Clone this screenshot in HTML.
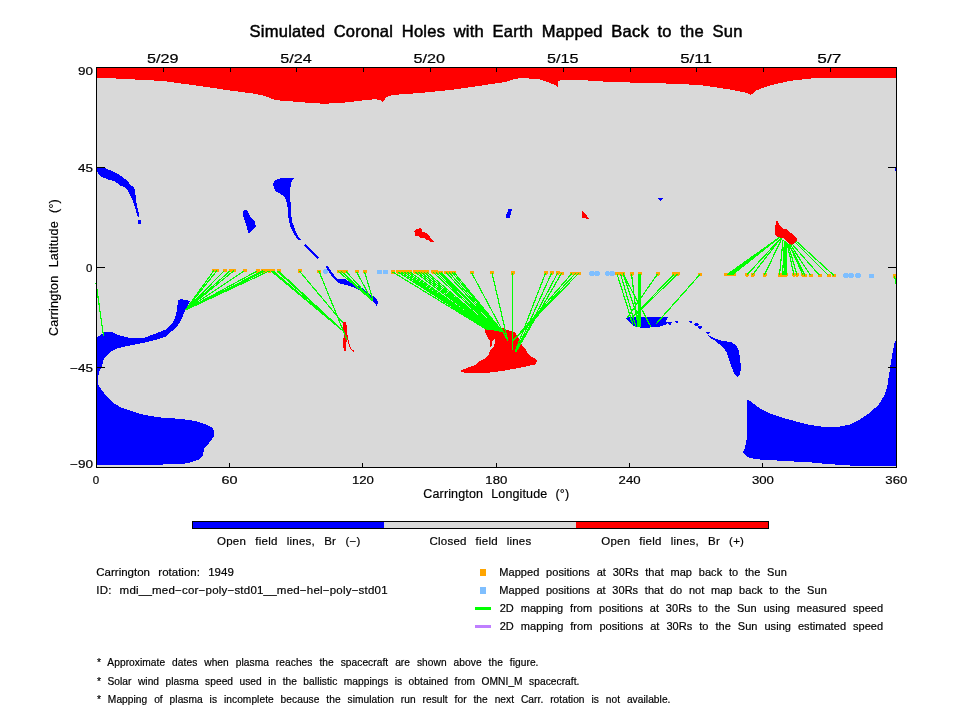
<!DOCTYPE html>
<html><head><meta charset="utf-8"><title>Simulated Coronal Holes</title>
<style>html,body{margin:0;padding:0;background:#fff;}svg{display:block;font-family:"Liberation Sans",sans-serif;fill:#000;}text{white-space:pre;}</style></head><body>
<svg width="960" height="720" viewBox="0 0 960 720">
<rect x="0" y="0" width="960" height="720" fill="#fff"/>
<g shape-rendering="crispEdges">
<rect x="96" y="67" width="800" height="400" fill="#d9d9d9"/>
<path d="M96 67 L896 67 L896 78 L815 78 L790 80.8 L770 85.5 L760 89 L757 90 L751 94.7 L745 92.5 L730 89.5 L700 85 L660 83.25 L610 82 L580 80 L565 79.5 L558 81 L557.5 83 L558 87.5 L555 85 L550 83 L545 81 L540 79.5 L524 78 L515 78.75 L505 82 L480 85.75 L450 90 L420 93 L392 95 L386 97.5 L385 99 L383 102 L380 100 L375 99.25 L362 100.5 L345 102.5 L325 103.75 L310 103 L300 102 L285 101 L275 100 L265 96 L255 93.75 L230 90.5 L200 86 L163 81 L120 78.7 L96 77.5Z" fill="#ff0000"/>
<path d="M485 329 L495 329.5 L503 328 L510 331 L515 332.5 L519 339 L522 345 L526 350 L529 355 L534 358 L537 361 L535 364.5 L528 366 L516 368.5 L505 370.5 L490 372.5 L475 372.5 L464 372.5 L460 371 L468 367.5 L475 365 L480 361 L485 358.5 L489 354 L490 350 L494 346 L495.5 340 L494 339 L492 342 L491.5 346.5 L490 346.5 L490 341 L487.5 337 L485.5 333Z" fill="#ff0000"/>
<path d="M414 231.5 L416 229 L419 229 L419.5 228 L421 228 L422 230 L422 232 L427 233 L430 237 L432 240 L434 241 L434 242 L431 242 L429 240.5 L426 240 L424 238 L420 237.5 L418 236 L415 236 L415 233Z" fill="#ff0000"/>
<path d="M582 211 L584.5 212.5 L587 216 L589 219 L587 219.5 L584 217.5 L582 218.5Z" fill="#ff0000"/>
<path d="M777 220 L779 224 L783 228.5 L786 229 L791 233 L797 238 L797 241.5 L793 244.5 L790 245 L786 241 L783 238 L779 237.5 L775 235 L775 228 L776 222Z" fill="#ff0000"/>
<path d="M342.5 322 L345.5 322 L347 327 L347 340 L346 345 L346 351 L344 351 L343 345 L343 341 L344 335 L343 328Z" fill="#ff0000"/>
<path d="M96 168 L105 168 L112 171 L119 174.5 L123 177.5 L128 181 L131 186 L134 187 L135 190 L136 200 L138 210 L139.5 217 L138 217.5 L136 211 L134 204 L132 198.5 L130 195 L128 191 L124 187 L120 185.5 L115 181.5 L108 179.5 L100 176 L97 171.5 L96 170Z" fill="#0000ff"/>
<path d="M275 180 L281 178 L294 178 L292 180 L291 184 L290 190 L290.5 202 L291 212 L292 222 L294 226 L296 232 L298 236 L301 239.5 L299 240.5 L296 237 L293 232 L290 226 L288.5 218 L288 210 L287 203 L285 198 L283 195.5 L279 193 L275 191 L274 187 L273 184Z" fill="#0000ff"/>
<path d="M304 245.5 L305.5 244 L319 257 L317.5 258.5Z" fill="#0000ff"/>
<path d="M243.5 210.5 L247 210 L250 216 L255 222 L256 227 L252 230 L249 234 L247 228 L245 221 L243 215Z" fill="#0000ff"/>
<path d="M325.5 266 L328 266.5 L331.5 272 L337 278.5 L345 279 L350 282 L355 284.5 L362 288 L368 293 L373 296 L377 299 L378 303 L376.5 305.5 L374 303 L370 299 L365 294 L360 290.5 L354 287.5 L346 285 L338 283 L334 279 L330 273.5 L327 269Z" fill="#0000ff"/>
<path d="M96 338 L97 337.5 L104 332.5 L112 332 L118 335 L128 337.5 L145 337.5 L157 333 L166 329.5 L172 324 L175 318 L177 310 L178 300 L181 299 L190 301 L187 307 L184 313 L182 318.5 L178 325 L172 331 L165 337 L155 340 L143 343 L135 344.5 L125 346.5 L117 348.5 L110 352 L106 356 L103 361 L102 367 L99 372 L98 378 L98.5 385 L101 389 L106 395.5 L114 403.5 L122 408 L137 413 L150 416 L161 417.5 L182 419 L195 421 L205 424 L213 428 L214 432 L213.5 437 L209 443 L204 449 L203 455 L199 459.5 L192 462 L185 463.5 L163 464.5 L96 465Z" fill="#0000ff"/>
<path d="M747 400 L750 401 L760 408.5 L770 413.5 L785 418.5 L800 422.5 L810 425 L825 427 L840 426.5 L850 424.5 L860 419.5 L868 414 L875 408 L879 404 L884 396 L887 388 L889 375 L891 362 L893 350 L895 341 L896 341 L896 465.5 L850 465.5 L827 464 L812 462.5 L785 461 L760 459.5 L750 458 L745 455 L743 452 L745 448 L746.5 440 L747 420Z" fill="#0000ff"/>
<path d="M626 318 L632 316.5 L645 317.5 L658 317 L668 317 L666 321 L667 323 L665 325 L660 326.5 L650 327.5 L640 327.5 L633 326 L629 322Z" fill="#0000ff"/>
<path d="M706.5 333 L709 335.5 L714 338 L722 341 L731 342 L736 345 L738.5 350 L740 358 L741 368 L740 374 L737.5 377 L735 375 L732 368 L729 360 L727 353 L724 348 L719 344 L714 340 L710 338Z" fill="#0000ff"/>
<path d="M508 209 L512 209 L511 214 L509.5 218.5 L506 218 L506 215 L507.5 212Z" fill="#0000ff"/>
<path d="M658 198 L663 198 L660.5 201Z" fill="#0000ff"/>
<path d="M666.5 322 L672.5 322 L670 325.5Z" fill="#0000ff"/>
<path d="M674.5 320.5 L679 320.5 L677 323.5Z" fill="#0000ff"/>
<path d="M688.5 320.5 L693 320.5 L691 323.5Z" fill="#0000ff"/>
<path d="M705.5 332 L710 332 L708 335Z" fill="#0000ff"/>
<rect x="138" y="220" width="3" height="4" fill="#0000ff"/>
<rect x="695" y="323" width="3" height="3" fill="#0000ff"/>
<rect x="694" y="324" width="5" height="1" fill="#0000ff"/>
<rect x="697.5" y="326" width="4" height="1.5" fill="#0000ff"/>
<rect x="698.5" y="327" width="2.5" height="1.5" fill="#0000ff"/>
<rect x="895" y="168" width="1" height="3" fill="#0000ff"/>
<path d="M347 335 L348.5 343 L351 349 L354 351.5" fill="none" stroke="#ff0000" stroke-width="1"/>
<rect x="322.8" y="269.3" width="5.4" height="4.4" rx="1.6" fill="#7fbfff"/>
<rect x="376.8" y="269.8" width="5.4" height="4.4" rx="1.6" fill="#7fbfff"/>
<rect x="382.8" y="269.8" width="5.4" height="4.4" rx="1.6" fill="#7fbfff"/>
<rect x="589.3" y="271.3" width="5.4" height="4.4" rx="1.6" fill="#7fbfff"/>
<rect x="594.3" y="271.3" width="5.4" height="4.4" rx="1.6" fill="#7fbfff"/>
<rect x="604.8" y="271.3" width="5.4" height="4.4" rx="1.6" fill="#7fbfff"/>
<rect x="609.3" y="271.3" width="5.4" height="4.4" rx="1.6" fill="#7fbfff"/>
<rect x="843.3" y="273.3" width="5.4" height="4.4" rx="1.6" fill="#7fbfff"/>
<rect x="848.3" y="273.3" width="5.4" height="4.4" rx="1.6" fill="#7fbfff"/>
<rect x="855.3" y="273.3" width="5.4" height="4.4" rx="1.6" fill="#7fbfff"/>
<rect x="868.8" y="273.8" width="5.4" height="4.4" rx="1.6" fill="#7fbfff"/>
<rect x="212" y="268.5" width="4.2" height="3.6" rx="1" fill="#ffa500"/>
<rect x="215" y="268.5" width="4.2" height="3.6" rx="1" fill="#ffa500"/>
<rect x="222.5" y="268.5" width="4.2" height="3.6" rx="1" fill="#ffa500"/>
<rect x="228.5" y="268.5" width="4.2" height="3.6" rx="1" fill="#ffa500"/>
<rect x="232" y="268.5" width="4.2" height="3.6" rx="1" fill="#ffa500"/>
<rect x="242.5" y="268.5" width="4.2" height="3.6" rx="1" fill="#ffa500"/>
<rect x="255.5" y="269" width="4.2" height="3.6" rx="1" fill="#ffa500"/>
<rect x="261" y="269" width="4.2" height="3.6" rx="1" fill="#ffa500"/>
<rect x="263.5" y="269" width="4.2" height="3.6" rx="1" fill="#ffa500"/>
<rect x="267.5" y="269" width="4.2" height="3.6" rx="1" fill="#ffa500"/>
<rect x="271" y="269" width="4.2" height="3.6" rx="1" fill="#ffa500"/>
<rect x="276.5" y="269" width="4.2" height="3.6" rx="1" fill="#ffa500"/>
<rect x="297.5" y="269" width="4.2" height="3.6" rx="1" fill="#ffa500"/>
<rect x="317" y="269.5" width="4.2" height="3.6" rx="1" fill="#ffa500"/>
<rect x="336.5" y="269.5" width="4.2" height="3.6" rx="1" fill="#ffa500"/>
<rect x="339.5" y="269.5" width="4.2" height="3.6" rx="1" fill="#ffa500"/>
<rect x="344" y="269.5" width="4.2" height="3.6" rx="1" fill="#ffa500"/>
<rect x="354.5" y="269.5" width="4.2" height="3.6" rx="1" fill="#ffa500"/>
<rect x="362.5" y="269.5" width="4.2" height="3.6" rx="1" fill="#ffa500"/>
<rect x="390.5" y="270" width="4.2" height="3.6" rx="1" fill="#ffa500"/>
<rect x="396" y="270" width="4.2" height="3.6" rx="1" fill="#ffa500"/>
<rect x="399" y="270" width="4.2" height="3.6" rx="1" fill="#ffa500"/>
<rect x="402" y="270" width="4.2" height="3.6" rx="1" fill="#ffa500"/>
<rect x="405" y="270" width="4.2" height="3.6" rx="1" fill="#ffa500"/>
<rect x="408" y="270" width="4.2" height="3.6" rx="1" fill="#ffa500"/>
<rect x="413" y="270" width="4.2" height="3.6" rx="1" fill="#ffa500"/>
<rect x="416" y="270" width="4.2" height="3.6" rx="1" fill="#ffa500"/>
<rect x="419" y="270" width="4.2" height="3.6" rx="1" fill="#ffa500"/>
<rect x="422" y="270" width="4.2" height="3.6" rx="1" fill="#ffa500"/>
<rect x="425" y="270" width="4.2" height="3.6" rx="1" fill="#ffa500"/>
<rect x="431" y="270" width="4.2" height="3.6" rx="1" fill="#ffa500"/>
<rect x="434" y="270" width="4.2" height="3.6" rx="1" fill="#ffa500"/>
<rect x="437" y="270.5" width="4.2" height="3.6" rx="1" fill="#ffa500"/>
<rect x="439" y="270.5" width="4.2" height="3.6" rx="1" fill="#ffa500"/>
<rect x="444" y="270.5" width="4.2" height="3.6" rx="1" fill="#ffa500"/>
<rect x="447" y="270.5" width="4.2" height="3.6" rx="1" fill="#ffa500"/>
<rect x="450" y="270.5" width="4.2" height="3.6" rx="1" fill="#ffa500"/>
<rect x="452" y="270.5" width="4.2" height="3.6" rx="1" fill="#ffa500"/>
<rect x="469.5" y="270.5" width="4.2" height="3.6" rx="1" fill="#ffa500"/>
<rect x="490" y="270.5" width="4.2" height="3.6" rx="1" fill="#ffa500"/>
<rect x="510.5" y="271" width="4.2" height="3.6" rx="1" fill="#ffa500"/>
<rect x="543.5" y="271" width="4.2" height="3.6" rx="1" fill="#ffa500"/>
<rect x="549.5" y="271" width="4.2" height="3.6" rx="1" fill="#ffa500"/>
<rect x="555.5" y="271" width="4.2" height="3.6" rx="1" fill="#ffa500"/>
<rect x="559.5" y="271.5" width="4.2" height="3.6" rx="1" fill="#ffa500"/>
<rect x="570" y="271.5" width="4.2" height="3.6" rx="1" fill="#ffa500"/>
<rect x="573.5" y="271.5" width="4.2" height="3.6" rx="1" fill="#ffa500"/>
<rect x="576.5" y="271.5" width="4.2" height="3.6" rx="1" fill="#ffa500"/>
<rect x="615" y="271.5" width="4.2" height="3.6" rx="1" fill="#ffa500"/>
<rect x="618.5" y="271.5" width="4.2" height="3.6" rx="1" fill="#ffa500"/>
<rect x="621" y="272" width="4.2" height="3.6" rx="1" fill="#ffa500"/>
<rect x="629.5" y="272" width="4.2" height="3.6" rx="1" fill="#ffa500"/>
<rect x="637.5" y="272" width="4.2" height="3.6" rx="1" fill="#ffa500"/>
<rect x="655.5" y="272" width="4.2" height="3.6" rx="1" fill="#ffa500"/>
<rect x="672" y="272" width="4.2" height="3.6" rx="1" fill="#ffa500"/>
<rect x="675.5" y="272" width="4.2" height="3.6" rx="1" fill="#ffa500"/>
<rect x="698" y="272.5" width="4.2" height="3.6" rx="1" fill="#ffa500"/>
<rect x="724" y="272.5" width="4.2" height="3.6" rx="1" fill="#ffa500"/>
<rect x="726.5" y="272.5" width="4.2" height="3.6" rx="1" fill="#ffa500"/>
<rect x="729" y="272.5" width="4.2" height="3.6" rx="1" fill="#ffa500"/>
<rect x="731.5" y="272.5" width="4.2" height="3.6" rx="1" fill="#ffa500"/>
<rect x="745" y="273" width="4.2" height="3.6" rx="1" fill="#ffa500"/>
<rect x="750.5" y="273" width="4.2" height="3.6" rx="1" fill="#ffa500"/>
<rect x="762.5" y="273" width="4.2" height="3.6" rx="1" fill="#ffa500"/>
<rect x="777.5" y="273" width="4.2" height="3.6" rx="1" fill="#ffa500"/>
<rect x="780.5" y="273" width="4.2" height="3.6" rx="1" fill="#ffa500"/>
<rect x="783.5" y="273" width="4.2" height="3.6" rx="1" fill="#ffa500"/>
<rect x="792" y="273" width="4.2" height="3.6" rx="1" fill="#ffa500"/>
<rect x="795" y="273" width="4.2" height="3.6" rx="1" fill="#ffa500"/>
<rect x="801" y="273" width="4.2" height="3.6" rx="1" fill="#ffa500"/>
<rect x="803" y="273.5" width="4.2" height="3.6" rx="1" fill="#ffa500"/>
<rect x="808.5" y="273.5" width="4.2" height="3.6" rx="1" fill="#ffa500"/>
<rect x="817.5" y="273.5" width="4.2" height="3.6" rx="1" fill="#ffa500"/>
<rect x="826.5" y="273.5" width="4.2" height="3.6" rx="1" fill="#ffa500"/>
<rect x="832" y="273.5" width="4.2" height="3.6" rx="1" fill="#ffa500"/>
<rect x="892.5" y="274" width="4.2" height="3.6" rx="1" fill="#ffa500"/>
<path d="M96 283L103.5 336 M214 270.415L185.5 310 M217 270.439L185.5 310 M224.5 270.501L185.5 310 M230.5 270.55L185.5 310 M234 270.579L185.5 310 M244.5 270.665L185.5 310 M257.5 270.772L185.5 310 M263 270.817L185.5 310 M265.5 270.837L185.5 310 M269.5 270.87L185.5 310 M271 270.882L342 330 M273 270.899L342 330 M277 270.932L342 330 M278.5 270.944L342 330 M299.5 271.116L343 323 M319 271.276L347 340 M338.5 271.436L373 301 M341.5 271.461L373 301 M346 271.497L373 301 M356.5 271.584L370 297 M364.5 271.649L373 300 M392.5 271.879L486 329 M398 271.924L486.944 329.167 M401 271.948L487.889 329.333 M404 271.973L488.833 329.5 M407 271.998L489.778 329.667 M410 272.022L490.722 329.833 M415 272.063L491.667 330 M418 272.088L492.611 330.167 M421 272.113L493.556 330.333 M424 272.137L494.5 330.5 M427 272.162L495.444 330.667 M433 272.211L496.389 330.833 M436 272.236L497.333 331 M439 272.26L498.278 331.167 M441 272.277L499.222 331.333 M446 272.318L500.167 331.5 M449 272.342L501.111 331.667 M452 272.367L502.056 331.833 M454 272.383L503 332 M471.5 272.527L508 341 M492 272.695L507.5 340 M512.5 272.863L512.5 350 M545.5 273.134L515 352 M551.5 273.183L516 352 M557.5 273.232L517 350 M561.5 273.265L517 350 M572 273.351L513 341 M575.5 273.38L513 341 M578.5 273.404L513 341 M617 273.72L633 325 M620.5 273.749L636 327 M623 273.769L641 327 M623 273.769L651 327 M631.5 273.839L638 327 M657.5 274.052L627 318 M674 274.187L630 320 M677.5 274.216L630 320 M700 274.401L656 324 M727 274.622L780 237 M728.5 274.634L780 237 M730 274.647L780 237 M731.5 274.659L780 237 M732.5 274.667L780 237 M747 274.786L781 238 M752.5 274.831L781 238 M764.5 274.93L782 238 M779.5 275.053L783 240 M782.5 275.077L784.5 241 M784 275.09L785 241 M785.5 275.102L786 242 M786.5 275.11L786.5 242 M794 275.172L787 243 M797 275.196L788 244 M803 275.245L789 244 M805 275.262L789 244 M810.5 275.307L790 244 M819.5 275.381L792 244 M828.5 275.455L795 242 M834 275.5L796 241 M894.5 276L896 284" fill="none" stroke="#00ff00" stroke-width="1.2"/>
<path d="M639.5 274L640 327" fill="none" stroke="#00ff00" stroke-width="3"/>
<rect x="96.5" y="67.5" width="800" height="400" fill="none" stroke="#000" stroke-width="1"/>
<path d="M163.5 67v5M229.5 467v-4M230.5 67v5M296.5 67v5M362.5 467v-4M363.5 67v5M430.5 67v5M496.5 467v-4M496.5 67v5M563.5 67v5M629.5 467v-4M630.5 67v5M696.5 67v5M762.5 467v-4M763.5 67v5M830.5 67v5M96 167.5h9M896 167.5h-8M96 267.5h9M896 267.5h-8M96 367.5h9M896 367.5h-8" fill="none" stroke="#000" stroke-width="1"/>
<rect x="192" y="521" width="192" height="8" fill="#0000ff"/>
<rect x="384" y="521" width="192" height="8" fill="#d9d9d9"/>
<rect x="576" y="521" width="192" height="8" fill="#ff0000"/>
<rect x="192.5" y="521.5" width="576" height="7" fill="none" stroke="#000" stroke-width="1"/>
<rect x="480" y="569" width="6" height="7" fill="#ffa500"/>
<rect x="480" y="587" width="6" height="7" fill="#7fbfff"/>
<rect x="475" y="607" width="16" height="3" fill="#00ff00"/>
<rect x="475" y="625" width="16" height="3" fill="#bf7fff"/>
</g>
<g style="will-change:transform" stroke="#000" stroke-width="0.2"><text x="249.6" y="37" font-size="16.5" textLength="493" lengthAdjust="spacing" style="letter-spacing:0.25px;word-spacing:3.70px" stroke="#000" stroke-width="0.5">Simulated Coronal Holes with Earth Mapped Back to the Sun</text>
<text x="146.917" y="62.5" font-size="12.5" textLength="31.5" lengthAdjust="spacingAndGlyphs">5/29</text>
<text x="280.25" y="62.5" font-size="12.5" textLength="31.5" lengthAdjust="spacingAndGlyphs">5/24</text>
<text x="413.583" y="62.5" font-size="12.5" textLength="31.5" lengthAdjust="spacingAndGlyphs">5/20</text>
<text x="546.917" y="62.5" font-size="12.5" textLength="31.5" lengthAdjust="spacingAndGlyphs">5/15</text>
<text x="680.25" y="62.5" font-size="12.5" textLength="31.5" lengthAdjust="spacingAndGlyphs">5/11</text>
<text x="817.333" y="62.5" font-size="12.5" textLength="24" lengthAdjust="spacingAndGlyphs">5/7</text>
<text x="96" y="484" font-size="11.5" text-anchor="middle">0</text>
<text x="221.633" y="484" font-size="11.5" textLength="16" lengthAdjust="spacingAndGlyphs">60</text>
<text x="351.967" y="484" font-size="11.5" textLength="22" lengthAdjust="spacingAndGlyphs">120</text>
<text x="485.3" y="484" font-size="11.5" textLength="22" lengthAdjust="spacingAndGlyphs">180</text>
<text x="618.633" y="484" font-size="11.5" textLength="22" lengthAdjust="spacingAndGlyphs">240</text>
<text x="751.967" y="484" font-size="11.5" textLength="22" lengthAdjust="spacingAndGlyphs">300</text>
<text x="885.3" y="484" font-size="11.5" textLength="22" lengthAdjust="spacingAndGlyphs">360</text>
<text x="78" y="75" font-size="11.5" textLength="15" lengthAdjust="spacingAndGlyphs">90</text>
<text x="78" y="171.5" font-size="11.5" textLength="15" lengthAdjust="spacingAndGlyphs">45</text>
<text x="92.5" y="271.5" font-size="11.5" text-anchor="end">0</text>
<text x="70" y="371.5" font-size="11.5" textLength="23" lengthAdjust="spacingAndGlyphs">−45</text>
<text x="70" y="467.5" font-size="11.5" textLength="23" lengthAdjust="spacingAndGlyphs">−90</text>
<text x="423.3" y="498" font-size="12.5" textLength="146" lengthAdjust="spacing" style="letter-spacing:0.15px;word-spacing:4.50px">Carrington Longitude (°)</text>
<g transform="translate(58 336) rotate(-90)"><text x="0" y="0" font-size="12.5" textLength="137" lengthAdjust="spacing" style="letter-spacing:0.22px;word-spacing:4.52px">Carrington Latitude (°)</text></g>
<text x="217" y="545" font-size="11.5" textLength="143.5" lengthAdjust="spacing" style="letter-spacing:0.25px;word-spacing:5.76px">Open field lines, Br (−)</text>
<text x="429.5" y="545" font-size="11.5" textLength="102" lengthAdjust="spacing" style="letter-spacing:0.25px;word-spacing:5.41px">Closed field lines</text>
<text x="601.2" y="545" font-size="11.5" textLength="143" lengthAdjust="spacing" style="letter-spacing:0.25px;word-spacing:5.63px">Open field lines, Br (+)</text>
<text x="96.3" y="576" font-size="11.5" textLength="137.5" lengthAdjust="spacing" style="letter-spacing:0px;word-spacing:5.14px">Carrington rotation: 1949</text>
<text x="96.3" y="594" font-size="11.5" textLength="291.5" lengthAdjust="spacing" style="letter-spacing:0.22px;word-spacing:4.57px">ID: mdi__med−cor−poly−std01__med−hel−poly−std01</text>
<text x="499.3" y="576" font-size="11" textLength="287.5" lengthAdjust="spacing" style="letter-spacing:0.05px;word-spacing:3.62px">Mapped positions at 30Rs that map back to the Sun</text>
<text x="499.3" y="594" font-size="11" textLength="327.5" lengthAdjust="spacing" style="letter-spacing:0.05px;word-spacing:3.51px">Mapped positions at 30Rs that do not map back to the Sun</text>
<text x="499.7" y="612" font-size="11" textLength="383.5" lengthAdjust="spacing" style="letter-spacing:0.05px;word-spacing:3.72px">2D mapping from positions at 30Rs to the Sun using measured speed</text>
<text x="499.7" y="630" font-size="11" textLength="383.5" lengthAdjust="spacing" style="letter-spacing:0.05px;word-spacing:3.83px">2D mapping from positions at 30Rs to the Sun using estimated speed</text>
<text x="97" y="666" font-size="10.2" textLength="441.5" lengthAdjust="spacing" style="letter-spacing:0.05px;word-spacing:4.04px">* Approximate dates when plasma reaches the spacecraft are shown above the figure.</text>
<text x="97" y="684.5" font-size="10.2" textLength="482.5" lengthAdjust="spacing" style="letter-spacing:0.05px;word-spacing:3.52px">* Solar wind plasma speed used in the ballistic mappings is obtained from OMNI_M spacecraft.</text>
<text x="97" y="702.5" font-size="10.2" textLength="573.5" lengthAdjust="spacing" style="letter-spacing:0.05px;word-spacing:3.96px">* Mapping of plasma is incomplete because the simulation run result for the next Carr. rotation is not available.</text></g>
</svg></body></html>
